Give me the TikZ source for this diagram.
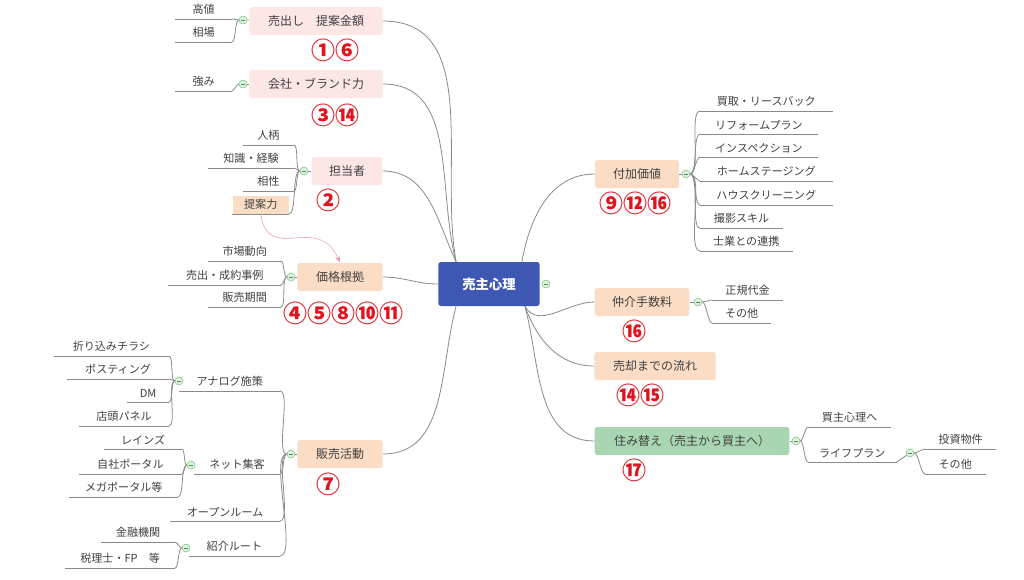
\documentclass[tikz,border=0pt]{standalone}
\usepackage{fontspec}
\setmainfont{Noto Sans CJK JP}
\usetikzlibrary{arrows.meta}
\definecolor{pinkbox}{HTML}{FCE6E6}
\definecolor{peachbox}{HTML}{FBDCC4}
\definecolor{greenbox}{HTML}{A9D6B2}
\definecolor{mainblue}{HTML}{3E57B3}
\definecolor{linegray}{HTML}{8A8A8A}
\definecolor{togglegreen}{HTML}{7CC47F}
\definecolor{numred}{HTML}{E0141E}
\definecolor{hintpink}{HTML}{E99AA8}

\begin{document}
\begin{tikzpicture}[x=0.75pt,y=-0.75pt]
\tikzset{line/.style = {draw=linegray, line width=0.6pt}}
\tikzset{lbranch/.style = {line, out=180, in=0, looseness=0.45}}
\tikzset{rbranch/.style = {line, out=0, in=180, looseness=0.45}}
\tikzset{topic/.style = {rounded corners=2pt, minimum height=21pt, font=\fontsize{9}{11}\selectfont, text=black!75}}
\tikzset{leaf/.style = {inner xsep=7pt, inner ysep=3pt, font=\fontsize{8.3}{10}\selectfont, text=black!75,
  append after command={(\tikzlastnode.south west) edge[line] (\tikzlastnode.south east)}}}
\tikzset{toggle/.style = {circle, draw=togglegreen, fill=togglegreen!25, inner sep=0pt, minimum size=6pt,
  path picture={\draw[togglegreen!70!black, line width=0.5pt] ([xshift=-1.5pt]path picture bounding box.center) -- ([xshift=1.5pt]path picture bounding box.center);}}}
\tikzset{num/.style = {text=numred, font=\bfseries\fontsize{18}{18}\selectfont, inner sep=0pt}}
\useasboundingbox (0,0) rectangle (1024,579);
% center
\node[fill=mainblue, rounded corners=2pt, minimum width=76pt, minimum height=33pt, text=white,
  font=\bfseries\fontsize{10}{12}\selectfont] (c) at (489,284) {売主心理};
% left topics
\node[topic, fill=pinkbox, minimum width=100pt] (t1) at (316,21) {売出し　提案金額};
\node[num] (n1) at (335,50) {①⑥};
\node[topic, fill=pinkbox, minimum width=100pt] (t2) at (316,84) {会社・ブランド力};
\node[num] (n2) at (335,115) {③⑭};
\node[topic, fill=pinkbox, minimum width=53pt] (t3) at (347,171) {担当者};
\node[num] (n3) at (328,200) {②};
\node[topic, fill=peachbox, minimum width=64pt] (t4) at (340,277) {価格根拠};
\node[num] (n4) at (343,313) {④⑤⑧⑩⑪};
\node[topic, fill=peachbox, minimum width=64pt] (t5) at (340,454) {販売活動};
\node[num] (n5) at (328,484) {⑦};
% right topics
\node[topic, fill=peachbox, minimum width=63pt] (t6) at (637,174) {付加価値};
\node[num] (n6) at (635,203) {⑨⑫⑯};
\node[topic, fill=peachbox, minimum width=71pt] (t7) at (642,302) {仲介手数料};
\node[num] (n7) at (634,331) {⑯};
\node[topic, fill=peachbox, minimum width=91pt] (t8) at (655,366) {売却までの流れ};
\node[num] (n8) at (640,395) {⑭⑮};
\node[topic, fill=greenbox, minimum width=146pt] (t9) at (692,441) {住み替え（売主から買主へ）};
\node[num] (n9) at (634,470) {⑰};
% topic edges
\draw[line] (c.north west) ++(18,0) coordinate (cl) to[out=100,in=0] (t1.east);
\draw[line] (cl) to[out=105,in=0] (t2.east);
\draw[line] (cl) to[out=115,in=0] (t3.east);
\draw[line] (c.west) to[out=180,in=0] (t4.east);
\draw[line] (c.south west) ++(18,0) coordinate (cb) to[out=-105,in=0] (t5.east);
\draw[line] (c.north east) ++(-18,0) coordinate (cr) to[out=80,in=180] (t6.west);
\node[toggle] (tc) at (546,284) {};
\draw[line] (c.south east) ++(-15,0) coordinate (cs) to[out=-60,in=180] (t7.west);
\draw[line] (cs) to[out=-70,in=180] (t8.west);
\draw[line] (cs) to[out=-75,in=180] (t9.west);
% toggles
\node[toggle] (g1) at (243,20) {};
\node[toggle] (g2) at (243,84) {};
\node[toggle] (g3) at (304,171) {};
\node[toggle] (g4) at (291,277) {};
\node[toggle] (g5) at (291,454) {};
\node[toggle] (g6) at (686,174) {};
\node[toggle] (g7) at (698,302) {};
\node[toggle] (g8) at (796,441) {};
\draw[line] (g1) -- (t1); \draw[line] (g2) -- (t2); \draw[line] (g3) -- (t3);
\draw[line] (g4) -- (t4); \draw[line] (g5) -- (t5); \draw[line] (g6) -- (t6);
\draw[line] (g7) -- (t7); \draw[line] (g8) -- (t9);
% leaves left
\node[leaf, anchor=south east, minimum width=42pt] (a1) at (232,19) {高値};
\node[leaf, anchor=south east, minimum width=42pt] (a2) at (232,42) {相場};
\node[leaf, anchor=south east, minimum width=42pt] (b1) at (232,91) {強み};
\node[leaf, anchor=south east, minimum width=38pt] (d1) at (294,145) {人柄};
\node[leaf, anchor=south east, minimum width=64pt] (d2) at (294,168) {知識・経験};
\node[leaf, anchor=south east, minimum width=38pt] (d3) at (294,191) {相性};
\node[leaf, anchor=south east, fill=peachbox, minimum width=42pt] (d4) at (289,214) {提案力};
\node[leaf, anchor=south east, minimum width=54pt] (e1) at (281,261) {市場動向};
\node[leaf, anchor=south east, minimum width=84pt] (e2) at (281,285) {売出・成約事例};
\node[leaf, anchor=south east, minimum width=54pt] (e3) at (281,307) {販売期間};
\foreach \l in {a1,a2} \draw[line] (g1.west) to[lbranch] (\l.south east);
\draw[line] (g2.west) to[lbranch] (b1.south east);
\foreach \l in {d1,d2,d3,d4} \draw[line] (g3.west) to[lbranch] (\l.south east);
\foreach \l in {e1,e2,e3} \draw[line] (g4.west) to[lbranch] (\l.south east);
\draw[hintpink, -{Stealth[length=5pt]}] (d4.south) .. controls (268,265) and (318,212) .. (t4.north);
% sales activities
\node[leaf, anchor=south east, minimum width=75pt] (s1) at (280,391) {アナログ施策};
\node[leaf, anchor=south east, minimum width=64pt] (s2) at (280,474) {ネット集客};
\node[leaf, anchor=south east, minimum width=82pt] (s3) at (280,521) {オープンルーム};
\node[leaf, anchor=south east, minimum width=68pt] (s4) at (280,556) {紹介ルート};
\foreach \l in {s1,s2,s3,s4} \draw[line] (g5.west) to[lbranch] (\l.south east);
\node[toggle] (h1) at (179,381) {};
\node[toggle] (h2) at (191,465) {};
\node[toggle] (h3) at (186,548) {};
\node[leaf, anchor=south east, minimum width=86pt] (p1) at (169,356) {折り込みチラシ};
\node[leaf, anchor=south east, minimum width=76pt] (p2) at (169,379) {ポスティング};
\node[leaf, anchor=south east, minimum width=31pt] (p3) at (169,402) {DM};
\node[leaf, anchor=south east, minimum width=67pt] (p4) at (169,426) {店頭パネル};
\foreach \l in {p1,p2,p3,p4} \draw[line] (h1.west) to[lbranch] (\l.south east);
\node[leaf, anchor=south east, minimum width=58pt] (q1) at (182,449) {レインズ};
\node[leaf, anchor=south east, minimum width=77pt] (q2) at (182,474) {自社ポータル};
\node[leaf, anchor=south east, minimum width=81pt] (q3) at (178,497) {メガポータル等};
\foreach \l in {q1,q2,q3} \draw[line] (h2.west) to[lbranch] (\l.south east);
\node[leaf, anchor=south east, minimum width=55pt] (r1) at (175,542) {金融機関};
\node[leaf, anchor=south east, minimum width=82pt] (r2) at (175,568) {税理士・FP　等};
\foreach \l in {r1,r2} \draw[line] (h3.west) to[lbranch] (\l.south east);
% leaves right
\foreach \t/\y/\w [count=\i] in {買取・リースバック/111/99, リフォームプラン/134/88, インスペクション/157/88,
  ホームステージング/181/99, ハウスクリーニング/205/99, 撮影スキル/228/62, 士業との連携/251/69}
  {\node[leaf, anchor=south west, minimum width=\w pt] (v\i) at (700,\y) {\t};
   \draw[line] (g6.east) to[rbranch] (v\i.south west);}
\node[leaf, anchor=south west, minimum width=53pt] (w1) at (712,300) {正規代金};
\node[leaf, anchor=south west, minimum width=44pt] (w2) at (712,323) {その他};
\foreach \l in {w1,w2} \draw[line] (g7.east) to[rbranch] (\l.south west);
\node[leaf, anchor=south west, minimum width=62pt] (x1) at (808,427) {買主心理へ};
\node[leaf, anchor=south west, minimum width=66pt] (x2) at (808,462) {ライフプラン};
\foreach \l in {x1,x2} \draw[line] (g8.east) to[rbranch] (\l.south west);
\node[toggle] (g9) at (910,453) {};
\draw[line] (x2.south east) -- (g9);
\node[leaf, anchor=south west, minimum width=53pt] (y1) at (925,449) {投資物件};
\node[leaf, anchor=south west, minimum width=45pt] (y2) at (925,474) {その他};
\foreach \l in {y1,y2} \draw[line] (g9.east) to[rbranch] (\l.south west);
\end{tikzpicture}
\end{document}
